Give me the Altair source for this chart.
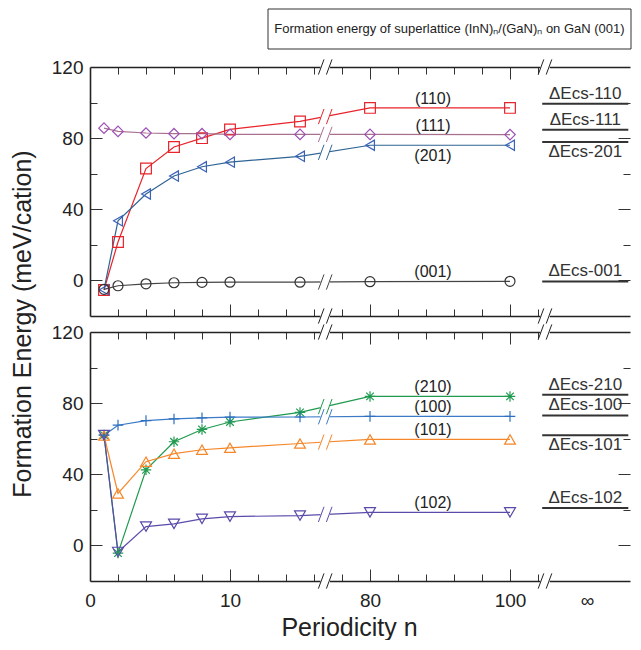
import altair as alt
import pandas as pd

# ---------------- data ----------------
N = [1, 2, 4, 6, 8, 10, 15, 80, 100]

TOP_SERIES = ["(110)", "(111)", "(201)", "(001)"]
E_110 = [-5.4, 21.6, 62.9, 75.0, 80.0, 84.9, 89.4, 97.0, 97.0]
E_111 = [85.6, 83.8, 82.9, 82.5, 82.5, 82.1, 82.1, 82.1, 82.0]
E_201 = [-5.2, 33.5, 48.6, 58.7, 63.9, 66.5, 69.8, 76.0, 76.0]
E_001 = [-5.0, -3.0, -1.9, -1.3, -1.1, -1.0, -1.0, -0.7, -0.5]
TOP_VALUES = [E_110, E_111, E_201, E_001]

BOT_SERIES = ["(210)", "(100)", "(101)", "(102)"]
E_210 = [62.0, -4.3, 42.5, 58.3, 65.2, 69.4, 74.8, 83.8, 83.8]
E_100 = [62.0, 67.6, 70.2, 71.1, 71.7, 72.1, 72.2, 72.6, 72.6]
E_101 = [61.8, 29.2, 47.1, 51.6, 53.8, 54.9, 57.3, 59.6, 59.6]
E_102 = [62.0, -3.7, 10.6, 12.1, 14.9, 16.2, 16.8, 18.6, 18.6]
BOT_VALUES = [E_210, E_100, E_101, E_102]

TOP_DECS_LABELS = ["ΔEcs-110", "ΔEcs-111", "ΔEcs-201", "ΔEcs-001"]
TOP_DECS = [99.3, 84.7, 77.8, -0.6]
BOT_DECS_LABELS = ["ΔEcs-210", "ΔEcs-100", "ΔEcs-101", "ΔEcs-102"]
BOT_DECS = [84.7, 73.1, 62.0, 21.0]

LABELS_BELOW = ["(201)"]
DECS_BELOW = ["ΔEcs-201", "ΔEcs-101"]

X_LABELS = {0: "0", 10: "10", 80: "80", 100: "100"}
INF_LABEL = "∞"
Y_LABELS = [0, 40, 80, 120]
Y_TICKS = [0, 20, 40, 60, 80, 100]
LEFT_TICKS_N = [2, 4, 6, 8, 10, 12, 14, 16]
MID_TICKS_N = [76, 80, 84, 88, 92, 96, 100, 104]
MAJOR_N = [10, 80, 100]

TITLE = "Formation energy of superlattice (InN)ₙ/(GaN)ₙ on GaN (001)"
YTITLE = "Formation Energy (meV/cation)"
XTITLE = "Periodicity n"

# ---------------- styles ----------------
MARK_COLORS_TOP = ["#e8232b", "#9b4fb5", "#3a62b8", "#333333"]
LINE_COLORS_TOP = ["#e8232b", "#a8708e", "#2f6494", "#444444"]
SHAPES_TOP = ["square", "diamond", "triangle-left", "circle"]
SIZES_TOP = [115, 100, 120, 115]

ASTERISK = "M0,-1L0,1M-1,0L1,0M-0.72,-0.72L0.72,0.72M-0.72,0.72L0.72,-0.72"
PLUS = "M-1,0L1,0M0,-1L0,1"
MARK_COLORS_BOT = ["#1f9a4e", "#2c6fc0", "#f5872a", "#5a4bab"]
LINE_COLORS_BOT = ["#1f9a4e", "#3a7ac6", "#f5872a", "#5a4bab"]
SHAPES_BOT = [ASTERISK, PLUS, "triangle-up", "triangle-down"]
SIZES_BOT = [110, 120, 130, 130]

FONT = "Liberation Sans"
INK = "#222222"

# ---------------- broken x axis geometry ----------------
W, H = 540, 249
PX_PER_UNIT = 14.0
XMAX = W / PX_PER_UNIT
BREAK1 = 16.8
BREAK2 = 32.5
MID_POS80 = 20.0
MID_SCALE = 0.5
INF_POS = 35.5
DECS_LEFT, DECS_RIGHT = 32.3, 38.45
YDOM = [-20, 120]


def pos_of(n):
    return n if n <= BREAK1 else MID_POS80 + (n - 80) * MID_SCALE


POS_EXPR = f"datum.n <= {BREAK1} ? datum.n : {MID_POS80} + (datum.n - 80) * {MID_SCALE}"

XTICKS = [pos_of(n) for n in LEFT_TICKS_N + MID_TICKS_N]
X_MAJOR_TEST = " || ".join(f"datum.value == {pos_of(n)}" for n in MAJOR_N)
label_map = [(pos_of(k), v) for k, v in X_LABELS.items()] + [(INF_POS, INF_LABEL)]
X_LABEL_VALUES = [p for p, _ in label_map]
X_LABEL_EXPR = " : ".join(f"datum.value == {p} ? '{t}'" for p, t in label_map) + " : ''"

xscale = alt.Scale(domain=[0, XMAX], nice=False, zero=False)
yscale = alt.Scale(domain=YDOM, nice=False, zero=False)

frame = dict(labels=False, title=None, grid=False, domainColor=INK, domainWidth=1.6,
             tickColor="#333333", tickWidth=1)
xt = {"condition": {"test": X_MAJOR_TEST, "value": 12}, "value": 7}
yt = {"condition": {"test": "datum.value % 40 == 0", "value": 12}, "value": 7}

AX_TOP = alt.Axis(orient="bottom", offset=-H, values=XTICKS, tickSize=xt, **frame)
AX_BOTTOM = alt.Axis(orient="top", offset=-H, values=XTICKS, tickSize=xt, **frame)
AX_LEFT = alt.Axis(orient="right", offset=-W, values=Y_TICKS, tickSize=yt, **frame)
AX_RIGHT = alt.Axis(orient="left", offset=-W, values=Y_TICKS, tickSize=yt,
                    **{**frame, "domainColor": "rgba(0,0,0,0)"})
AX_YLAB = alt.Axis(orient="left", values=Y_LABELS, ticks=False, tickSize=0, domain=False,
                   grid=False, labelPadding=7, labelFontSize=19, labelColor=INK,
                   labelFont=FONT, labelOverlap=False, title=None)
AX_XLAB = alt.Axis(orient="bottom", values=X_LABEL_VALUES, ticks=False, tickSize=0,
                   domain=False, grid=False, labelExpr=X_LABEL_EXPR, labelPadding=10,
                   labelFontSize=19, labelColor=INK, labelFont=FONT, labelFlush=False,
                   labelOverlap=False, title=XTITLE, titleFont=FONT, titleFontSize=25,
                   titleFontWeight="normal", titleColor=INK, titlePadding=5, titleX=259)


def one_row():
    return pd.DataFrame({"k": [0]})


def make_panel(names, values, decs_labels, decs_vals, mark_colors, line_colors,
               shapes, sizes, bottom, extras):
    rows = []
    for s, vals in zip(names, values):
        for n, v in zip(N, vals):
            rows.append({"series": s, "n": n, "value": v})
    df = pd.DataFrame(rows)

    cscale_line = alt.Scale(domain=names, range=line_colors)
    cscale_mark = alt.Scale(domain=names, range=mark_colors)

    lines = alt.Chart(df).transform_calculate(pos=POS_EXPR).mark_line(strokeWidth=1.2).encode(
        x=alt.X("pos:Q", scale=xscale, axis=AX_TOP),
        y=alt.Y("value:Q", scale=yscale, axis=AX_LEFT),
        color=alt.Color("series:N", scale=cscale_line, legend=None),
        detail="series:N",
    )

    # break marks (frame edges + on each line between n=15 and n=80)
    brk = [{"series": "frame", "pos": b, "value": y} for b in (BREAK1, BREAK2) for y in YDOM]
    for s, vals in zip(names, values):
        y15, y80 = vals[N.index(15)], vals[N.index(80)]
        p15, p80 = pos_of(15), pos_of(80)
        brk.append({"series": s, "pos": BREAK1,
                    "value": y15 + (y80 - y15) * (BREAK1 - p15) / (p80 - p15)})
    bdf = pd.DataFrame(brk)
    gaps = alt.Chart(bdf).mark_point(
        shape="M-1,-0.45L1,-0.45L1,0.45L-1,0.45Z", filled=True, color="white",
        opacity=1, size=90, strokeWidth=0).encode(
        x=alt.X("pos:Q", scale=xscale, axis=None),
        y=alt.Y("value:Q", scale=yscale, axis=None),
    )
    slashes = alt.Chart(bdf).mark_point(
        shape="M-0.85,0.95L-0.15,-0.95M0.15,0.95L0.85,-0.95", filled=False,
        opacity=1, size=256, strokeWidth=1).encode(
        x=alt.X("pos:Q", scale=xscale, axis=None),
        y=alt.Y("value:Q", scale=yscale, axis=None),
        color=alt.Color("series:N", scale=alt.Scale(domain=names + ["frame"],
                                                    range=line_colors + [INK]), legend=None),
    )

    points = alt.Chart(df).transform_calculate(pos=POS_EXPR).mark_point(
        filled=False, strokeWidth=1.2, opacity=1).encode(
        x=alt.X("pos:Q", scale=xscale, axis=AX_BOTTOM),
        y=alt.Y("value:Q", scale=yscale, axis=AX_RIGHT),
        color=alt.Color("series:N", scale=cscale_mark, legend=None),
        shape=alt.Shape("series:N", scale=alt.Scale(domain=names, range=shapes), legend=None),
        size=alt.Size("series:N", scale=alt.Scale(domain=names, range=sizes), legend=None),
    )

    # series labels near n = 89, on the final value
    lab = pd.DataFrame({"series": names, "n": [89] * len(names),
                        "value": [v[-1] for v in values]})
    lab["below"] = lab["series"].isin(LABELS_BELOW)
    lab_above = alt.Chart(lab).transform_filter("!datum.below").transform_calculate(
        pos=POS_EXPR).mark_text(fontSize=16, font=FONT, color=INK, baseline="bottom", dy=-1).encode(
        x=alt.X("pos:Q", scale=xscale, axis=AX_XLAB if bottom else None),
        y=alt.Y("value:Q", scale=yscale, axis=AX_YLAB),
        text="series:N",
    )
    lab_below = alt.Chart(lab).transform_filter("datum.below").transform_calculate(
        pos=POS_EXPR).mark_text(fontSize=16, font=FONT, color=INK, baseline="top", dy=3).encode(
        x=alt.X("pos:Q", scale=xscale, axis=None),
        y=alt.Y("value:Q", scale=yscale, axis=None),
        text="series:N",
    )

    # Delta E_cs reference lines at n = infinity
    ddf = pd.DataFrame({"label": decs_labels, "value": decs_vals})
    ddf["below"] = ddf["label"].isin(DECS_BELOW)
    dbase = alt.Chart(ddf).transform_calculate(
        x1=f"{DECS_LEFT}", x2=f"{DECS_RIGHT}", xc=f"{(DECS_LEFT + DECS_RIGHT) / 2}")
    drules = dbase.mark_rule(strokeWidth=2, color="#333333").encode(
        x=alt.X("x1:Q", scale=xscale, axis=None), x2="x2:Q",
        y=alt.Y("value:Q", scale=yscale, axis=None),
    )
    dtext_a = dbase.transform_filter("!datum.below").mark_text(
        fontSize=17, font=FONT, color="#333333", baseline="bottom", dy=-1).encode(
        x=alt.X("xc:Q", scale=xscale, axis=None),
        y=alt.Y("value:Q", scale=yscale, axis=None), text="label:N")
    dtext_b = dbase.transform_filter("datum.below").mark_text(
        fontSize=17, font=FONT, color="#333333", baseline="top", dy=2).encode(
        x=alt.X("xc:Q", scale=xscale, axis=None),
        y=alt.Y("value:Q", scale=yscale, axis=None), text="label:N")

    layer = alt.layer(lines, gaps, slashes, points, lab_above, lab_below,
                      drules, dtext_a, dtext_b, *extras).resolve_axis(
        x="independent", y="independent").resolve_scale(
        color="independent", shape="independent", size="independent").properties(
        width=W, height=H)
    return layer


title_box = alt.Chart(one_row()).mark_rect(fill="white", stroke="#333333", strokeWidth=1).encode(
    x=alt.value(178), x2=alt.value(541), y=alt.value(-58), y2=alt.value(-18))
title_text = alt.Chart(one_row()).mark_text(
    font=FONT, fontSize=13, color=INK, align="center", baseline="middle").encode(
    x=alt.value(359.5), y=alt.value(-38), text=alt.value(TITLE))
ytitle = alt.Chart(one_row()).mark_text(
    font=FONT, fontSize=25, color=INK, angle=270, align="center", baseline="middle").encode(
    x=alt.value(-67), y=alt.value(257), text=alt.value(YTITLE))

top = make_panel(TOP_SERIES, TOP_VALUES, TOP_DECS_LABELS, TOP_DECS, MARK_COLORS_TOP,
                 LINE_COLORS_TOP, SHAPES_TOP, SIZES_TOP, False,
                 [title_box, title_text, ytitle])
bot = make_panel(BOT_SERIES, BOT_VALUES, BOT_DECS_LABELS, BOT_DECS, MARK_COLORS_BOT,
                 LINE_COLORS_BOT, SHAPES_BOT, SIZES_BOT, True, [])

chart = alt.vconcat(top, bot, spacing=16, bounds="flush").properties(
    padding={"left": 2, "top": 0, "right": 0, "bottom": 0}).configure(
    font=FONT).configure_view(stroke=None).configure_axis(grid=False)

chart.save("out.html", embed_options={"renderer": "svg", "actions": False})
